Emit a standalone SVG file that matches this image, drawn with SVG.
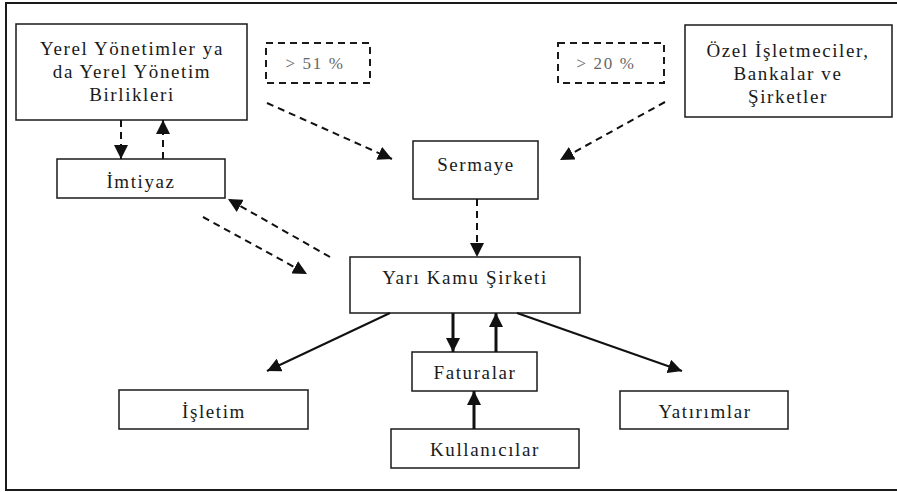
<svg xmlns="http://www.w3.org/2000/svg" width="897" height="492" viewBox="0 0 897 492">
<style>
  .box { fill: #fff; stroke: #1a1a1a; stroke-width: 1.5; }
  .dbox { fill: #fff; stroke: #1a1a1a; stroke-width: 2; stroke-dasharray: 7 5; }
  text { font-family: "Liberation Serif", "Times New Roman", serif; font-size: 19px; fill: #1a1a1a; text-anchor: middle; letter-spacing: 1.6px; }
  .pct { font-size: 17px; fill: #666; }
  .dash { stroke: #111; stroke-width: 2; stroke-dasharray: 7 5; fill: none; }
  .solid { stroke: #111; stroke-width: 2; fill: none; }
  .thick { stroke: #111; stroke-width: 3; fill: none; }
</style>
<defs>
  <marker id="ah" viewBox="0 0 14 14" refX="14" refY="7" markerWidth="14" markerHeight="14" markerUnits="userSpaceOnUse" orient="auto">
    <path d="M0,0 L14,7 L0,14 z" fill="#111" stroke="none"/>
  </marker>
</defs>
<rect x="0" y="0" width="897" height="492" fill="#fff"/>
<path d="M 900 3 H 6 V 490 H 900" fill="none" stroke="#1a1a1a" stroke-width="2"/>

<g id="yerel">
  <rect class="box" x="16" y="24" width="231" height="96"/>
  <text x="132" y="55">Yerel Yönetimler ya</text>
  <text x="132" y="78">da Yerel Yönetim</text>
  <text x="132" y="101">Birlikleri</text>
</g>
<g id="pct51">
  <rect class="dbox" x="266" y="43" width="104" height="40"/>
  <text class="pct" x="315" y="69">&gt; 51 %</text>
</g>
<g id="pct20">
  <rect class="dbox" x="558" y="43" width="106" height="40"/>
  <text class="pct" x="606" y="69">&gt; 20 %</text>
</g>
<g id="ozel">
  <rect class="box" x="685" y="25" width="207" height="92"/>
  <text x="788" y="57">Özel İşletmeciler,</text>
  <text x="788" y="80">Bankalar ve</text>
  <text x="788" y="103">Şirketler</text>
</g>
<g id="imtiyaz">
  <rect class="box" x="57" y="159" width="168" height="39"/>
  <text x="141" y="188">İmtiyaz</text>
</g>
<g id="sermaye">
  <rect class="box" x="413" y="141" width="125" height="58"/>
  <text x="476" y="171">Sermaye</text>
</g>
<g id="yarikamu">
  <rect class="box" x="350" y="257" width="230" height="56"/>
  <text x="465" y="284">Yarı Kamu Şirketi</text>
</g>
<g id="faturalar">
  <rect class="box" x="412" y="352" width="125" height="39"/>
  <text x="475" y="379">Faturalar</text>
</g>
<g id="kullanicilar">
  <rect class="box" x="391" y="429" width="188" height="39"/>
  <text x="485" y="456">Kullanıcılar</text>
</g>
<g id="isletim">
  <rect class="box" x="119" y="390" width="189" height="39"/>
  <text x="214" y="418">İşletim</text>
</g>
<g id="yatirimlar">
  <rect class="box" x="620" y="391" width="168" height="38"/>
  <text x="705" y="418">Yatırımlar</text>
</g>

<g id="connectors">
  <line class="dash" x1="121" y1="120" x2="121" y2="159" marker-end="url(#ah)"/>
  <line class="dash" x1="163" y1="159" x2="163" y2="120" marker-end="url(#ah)"/>
  <line class="dash" x1="267" y1="103" x2="392" y2="159" marker-end="url(#ah)"/>
  <line class="dash" x1="665" y1="102" x2="560" y2="160" marker-end="url(#ah)"/>
  <line class="dash" x1="477" y1="199" x2="477" y2="257" marker-end="url(#ah)"/>
  <line class="dash" x1="330" y1="257" x2="228" y2="199" marker-end="url(#ah)"/>
  <line class="dash" x1="203" y1="217" x2="307" y2="274" marker-end="url(#ah)"/>
  <line class="solid" x1="390" y1="313" x2="267" y2="371" marker-end="url(#ah)"/>
  <line class="solid" x1="517" y1="313" x2="682" y2="371" marker-end="url(#ah)"/>
  <line class="thick" x1="453" y1="313" x2="453" y2="352" marker-end="url(#ah)"/>
  <line class="thick" x1="496" y1="352" x2="496" y2="313" marker-end="url(#ah)"/>
  <line class="thick" x1="474" y1="429" x2="474" y2="391" marker-end="url(#ah)"/>
</g>
</svg>
